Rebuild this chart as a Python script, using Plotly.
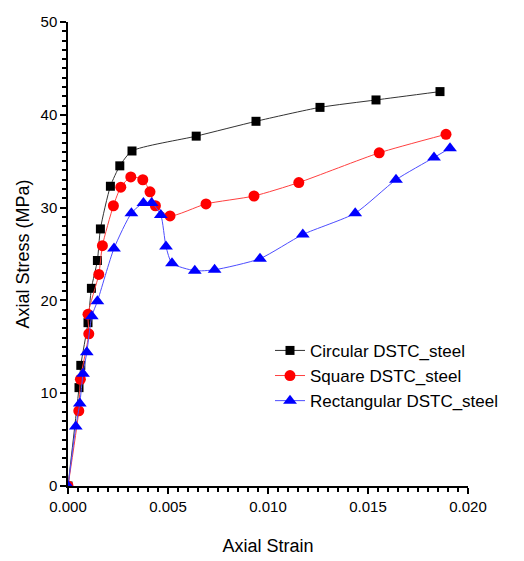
import plotly.graph_objects as go

circ_x = [0.0, 0.00055, 0.00064, 0.0010, 0.00117, 0.00147, 0.00162, 0.00212, 0.00259, 0.0032, 0.00641, 0.0094, 0.0126, 0.0154, 0.0186]
circ_y = [0.0, 10.6, 13.0, 17.6, 21.3, 24.3, 27.7, 32.3, 34.5, 36.1, 37.7, 39.3, 40.8, 41.6, 42.5]

sq_x = [0.0, 0.00054, 0.00062, 0.00104, 0.0010, 0.00154, 0.00172, 0.00227, 0.00264, 0.00314, 0.00374, 0.0041, 0.00437, 0.0051, 0.0069, 0.0093, 0.01154, 0.01556, 0.0189]
sq_y = [0.0, 8.1, 11.5, 16.4, 18.5, 22.8, 25.9, 30.2, 32.2, 33.3, 33.0, 31.7, 30.2, 29.1, 30.4, 31.25, 32.7, 35.9, 37.9]

rect_x = [0.0, 0.00039, 0.00059, 0.00075, 0.00094, 0.00119, 0.00147, 0.0023, 0.00317, 0.00377, 0.00418, 0.00464, 0.0049, 0.0052, 0.00634, 0.00733, 0.0096, 0.01174, 0.01436, 0.0164, 0.0183, 0.0191]
rect_y = [0.0, 6.4, 8.9, 12.1, 14.4, 18.3, 19.9, 25.6, 29.4, 30.5, 30.5, 29.2, 25.8, 24.0, 23.2, 23.3, 24.5, 27.1, 29.4, 33.0, 35.4, 36.4]

names = ["Circular DSTC_steel", "Square DSTC_steel", "Rectangular DSTC_steel"]

fig = go.Figure()
fig.add_trace(go.Scatter(x=circ_x, y=circ_y, name=names[0], mode="lines+markers",
                         line=dict(color="#333333", width=1, shape="spline", smoothing=0.6),
                         marker=dict(symbol="square", size=9, color="black")))
fig.add_trace(go.Scatter(x=sq_x, y=sq_y, name=names[1], mode="lines+markers",
                         line=dict(color="#ff4040", width=1, shape="spline", smoothing=0.6),
                         marker=dict(symbol="circle", size=11, color="red")))
fig.add_trace(go.Scatter(x=rect_x, y=rect_y, name=names[2], mode="lines+markers",
                         line=dict(color="#4d4dff", width=1, shape="spline", smoothing=0.6),
                         marker=dict(symbol="triangle-up", size=12, color="blue")))

font = "Liberation Sans, Arial, sans-serif"
fig.update_layout(
    width=524, height=561,
    margin=dict(l=68, r=56, t=22, b=75, autoexpand=False),
    plot_bgcolor="white", paper_bgcolor="white",
    font=dict(family=font, color="black", size=15),
    showlegend=True,
    legend=dict(x=0.505, y=0.33, xanchor="left", yanchor="top",
                bgcolor="rgba(0,0,0,0)", font=dict(size=17, family=font)),
    xaxis=dict(range=[0, 0.02], tickvals=[0, 0.005, 0.01, 0.015, 0.02],
               ticktext=["0.000", "0.005", "0.010", "0.015", "0.020"],
               showgrid=False, zeroline=False, showline=True, linecolor="black", linewidth=1.5,
               ticks="outside", ticklen=6, tickwidth=1.5, tickcolor="black",
               minor=dict(dtick=0.0005, ticks="outside", ticklen=4, tickcolor="black", showgrid=False),
               title=dict(text="Axial Strain", font=dict(size=18), standoff=26),
               tickfont=dict(size=15)),
    yaxis=dict(range=[0, 50], dtick=10,
               showgrid=False, zeroline=False, showline=True, linecolor="black", linewidth=1.5,
               ticks="outside", ticklen=6, tickwidth=1.5, tickcolor="black",
               minor=dict(dtick=1, ticks="outside", ticklen=4, tickcolor="black", showgrid=False),
               title=dict(text="Axial Stress (MPa)", font=dict(size=18), standoff=6),
               tickfont=dict(size=15)),
)

fig.write_html("out.html")
